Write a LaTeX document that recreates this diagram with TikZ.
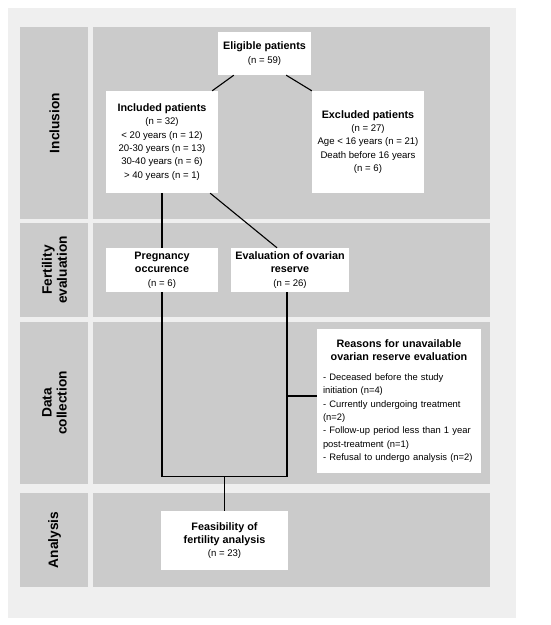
\documentclass[tikz,border=0pt]{standalone}
\usepackage{fontspec}
\setmainfont{Liberation Sans}
\usetikzlibrary{calc}
\definecolor{outerbg}{HTML}{EFEFEF}
\definecolor{panelgray}{HTML}{CBCBCB}
\newcommand{\regtxt}{\fontsize{9.6}{13.3}\selectfont}
\newcommand{\boldtxt}{\fontsize{10.8}{13.3}\selectfont\bfseries}
\newcommand{\lbltxt}{\fontsize{13.7}{15}\selectfont\bfseries}
\begin{document}
\begin{tikzpicture}[x=1pt,y=-1pt,
  box/.style={fill=white, inner sep=0pt, align=center, font=\regtxt},
  link/.style={draw=black, line width=1.1pt},
  rowlabel/.style={rotate=90, align=center, font=\lbltxt}]
\useasboundingbox (0,0) rectangle (550,625);
\fill[outerbg] (8,8) rectangle (516,618);
% panels
\fill[panelgray] (20,27) rectangle (88,219);
\fill[panelgray] (93,27) rectangle (490,219);
\fill[panelgray] (20,223) rectangle (88,317);
\fill[panelgray] (93,223) rectangle (490,317);
\fill[panelgray] (20,322) rectangle (88,484);
\fill[panelgray] (93,322) rectangle (490,484);
\fill[panelgray] (20,493) rectangle (88,587);
\fill[panelgray] (93,493) rectangle (490,587);
% row labels
\node[rowlabel] (linc) at (54.5,123) {Inclusion};
\node[rowlabel] (lfert) at (54.5,270) {Fertility\\evaluation};
\node[rowlabel] (ldata) at (54.5,403) {Data\\collection};
\node[rowlabel] (lana) at (54.5,540) {Analysis};
% boxes
\node[box, minimum width=93pt, minimum height=43pt] (elig) at (264.5,53.5)
  {{\boldtxt Eligible patients}\\(n = 59)};
\node[box, minimum width=112pt, minimum height=102pt] (incl) at (162,142)
  {{\boldtxt Included patients}\\(n = 32)\\< 20 years (n = 12)\\20-30 years (n = 13)\\30-40 years (n = 6)\\> 40 years (n = 1)};
\node[box, minimum width=112pt, minimum height=102pt] (excl) at (368,142)
  {{\boldtxt Excluded patients}\\(n = 27)\\Age < 16 years (n = 21)\\Death before 16 years\\(n = 6)};
\node[box, minimum width=112pt, minimum height=44pt] (preg) at (162,270)
  {{\boldtxt Pregnancy}\\{\boldtxt occurence}\\(n = 6)};
\node[box, minimum width=118pt, minimum height=44pt] (eval) at (290,270)
  {{\boldtxt Evaluation of ovarian}\\{\boldtxt reserve}\\(n = 26)};
\node[box, align=left, text width=158pt, inner xsep=3pt, inner ysep=0pt, minimum height=144pt] (reasons) at (399,401)
  {{\centering\boldtxt Reasons for unavailable\\ovarian reserve evaluation\par}\vspace{6.5pt}
   {\fontsize{9.4}{13.3}\selectfont\hspace*{3pt}- Deceased before the study\\\hspace*{3pt}initiation (n=4)\\\hspace*{3pt}- Currently undergoing treatment\\\hspace*{3pt}(n=2)\\\hspace*{3pt}- Follow-up period less than 1 year\\\hspace*{3pt}post-treatment (n=1)\\\hspace*{3pt}- Refusal to undergo analysis (n=2)\par}};
\node[box, minimum width=127pt, minimum height=59pt] (feas) at (224.5,540.5)
  {{\boldtxt Feasibility of}\\{\boldtxt fertility analysis}\\(n = 23)};
% connectors
\draw[link] ([xshift=16pt]elig.south west) -- ([xshift=-6pt]incl.north east);
\draw[link] ([xshift=-25pt]elig.south east) -- (excl.north west);
\draw[link] (incl.south) -- (preg.north);
\draw[link] ([xshift=-8pt]incl.south east) -- ([xshift=-13pt]eval.north);
\coordinate (j) at ([yshift=34pt]feas.north);
\coordinate (ej) at ([xshift=-3pt]eval.south);
\draw[link] (preg.south) |- (j) -| (ej);
\draw[link] (j) -- (feas.north);
\coordinate (rl) at ([yshift=5pt]reasons.west);
\draw[link] (rl) -- (ej |- rl);
\end{tikzpicture}
\end{document}
